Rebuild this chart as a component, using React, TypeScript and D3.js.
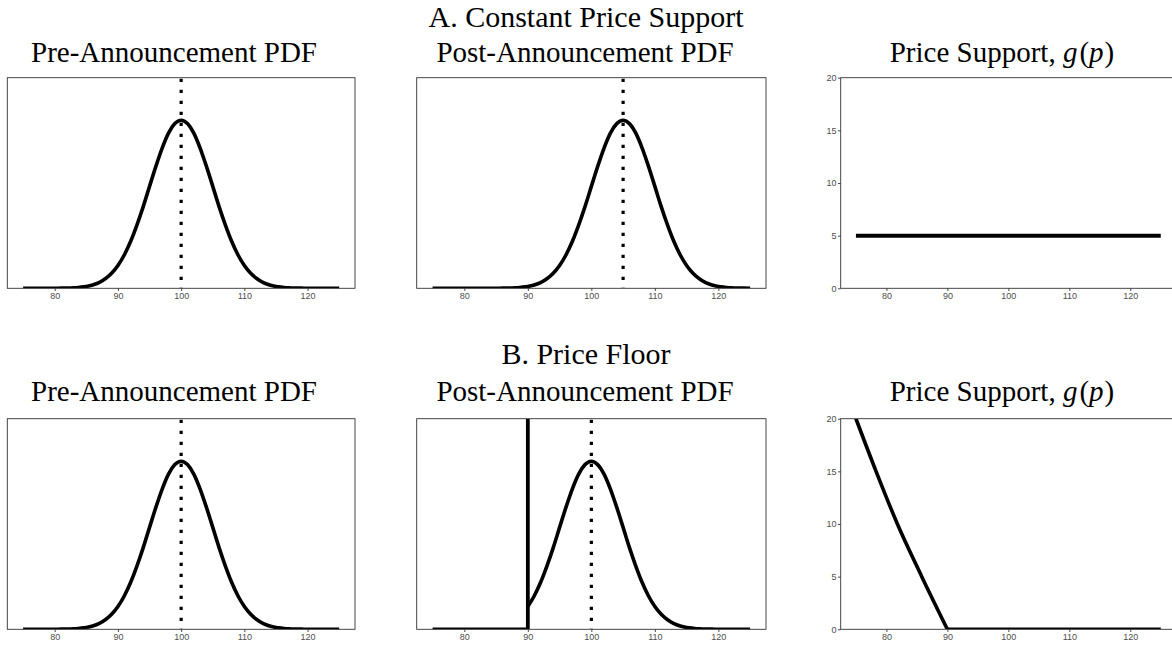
import { useEffect, useRef } from 'react'
import * as d3 from 'd3'

// Prices sampled along the x axis
const PRICES = [
  75, 76, 77, 78, 79, 80, 81, 82, 83, 84, 85, 86, 87, 88, 89, 90, 91, 92, 93, 94, 95, 96, 97, 98, 99,
  100, 101, 102, 103, 104, 105, 106, 107, 108, 109, 110, 111, 112, 113, 114, 115, 116, 117, 118, 119,
  120, 121, 122, 123, 124, 125,
]

// Pre-announcement density (centred on 100)
const PRE_PDF = [
  0, 0, 0, 0, 0, 0, 0.0001, 0.0001, 0.0002, 0.0005, 0.0009, 0.0016, 0.0027, 0.0045, 0.0071, 0.0108,
  0.0158, 0.0222, 0.03, 0.0388, 0.0484, 0.0579, 0.0666, 0.0737, 0.0782, 0.0798, 0.0782, 0.0737, 0.0666,
  0.0579, 0.0484, 0.0388, 0.03, 0.0222, 0.0158, 0.0108, 0.0071, 0.0045, 0.0027, 0.0016, 0.0009, 0.0005,
  0.0002, 0.0001, 0.0001, 0, 0, 0, 0, 0, 0,
]

// Post-announcement density, constant support (shifted to 105)
const POST_A_PDF = [
  0, 0, 0, 0, 0, 0, 0, 0, 0, 0, 0, 0.0001, 0.0001, 0.0002, 0.0005, 0.0009, 0.0016, 0.0027, 0.0045,
  0.0071, 0.0108, 0.0158, 0.0222, 0.03, 0.0388, 0.0484, 0.0579, 0.0666, 0.0737, 0.0782, 0.0798, 0.0782,
  0.0737, 0.0666, 0.0579, 0.0484, 0.0388, 0.03, 0.0222, 0.0158, 0.0108, 0.0071, 0.0045, 0.0027, 0.0016,
  0.0009, 0.0005, 0.0002, 0.0001, 0.0001, 0,
]

// Post-announcement density, price floor (truncated at 90, mass point at the floor)
const POST_B_PDF = [
  0, 0, 0, 0, 0, 0, 0, 0, 0, 0, 0, 0, 0, 0, 0, 0.0108,
  0.0158, 0.0222, 0.03, 0.0388, 0.0484, 0.0579, 0.0666, 0.0737, 0.0782, 0.0798, 0.0782, 0.0737, 0.0666,
  0.0579, 0.0484, 0.0388, 0.03, 0.0222, 0.0158, 0.0108, 0.0071, 0.0045, 0.0027, 0.0016, 0.0009, 0.0005,
  0.0002, 0.0001, 0.0001, 0, 0, 0, 0, 0, 0,
]
const FLOOR_PRICE = 90
const FLOOR_SPIKE = 0.1

// Means (dotted lines)
const MEANS = [
  [100, 105],
  [100, 100],
]

// Price support g(p)
const SUPPORT_A_P = [75, 125]
const SUPPORT_A_G = [5, 5]
const SUPPORT_B_P = [75, 78.3, 81.8, 85.8, 90]
const SUPPORT_B_G = [20, 15, 10, 5, 0]
const SUPPORT_B_FLAT_P = [90, 125]
const SUPPORT_B_FLAT_G = [0, 0]

const X_TICKS = [80, 90, 100, 110, 120]
const Y_TICKS = [0, 5, 10, 15, 20]

const ROW_TITLES = ['A. Constant Price Support', 'B. Price Floor']
const COL_TITLES = ['Pre-Announcement PDF', 'Post-Announcement PDF']

// layout
const W = 1172
const H = 649
const COLS = [
  { x0: 7.3, x1: 355, tx: 174 },
  { x0: 416.7, x1: 766, tx: 585 },
  { x0: 840.7, x1: 1176, tx: 1002 },
]
const ROWS = [
  { y0: 77.7, y1: 288.3, title: 27, sub: 61.5 },
  { y0: 418.7, y1: 629.3, title: 364, sub: 401 },
]
const SERIF = '"Liberation Serif", "Times New Roman", serif'
const SANS = '"Liberation Sans", Arial, sans-serif'
const AXIS = '#333333'
const LABEL = '#4d4d4d'

export default function App() {
  const ref = useRef<SVGSVGElement>(null)

  useEffect(() => {
    if (!ref.current) return
    d3.select(ref.current).selectAll('*').remove()
    render(ref.current)
  }, [])

  return (
    <div style={{ position: 'absolute', left: 0, top: 0, background: '#fff' }}>
      <svg ref={ref} width={W} height={H} style={{ display: 'block' }} />
    </div>
  )
}

function render(el: SVGSVGElement) {
  const svg = d3.select(el).attr('viewBox', `0 0 ${W} ${H}`)
  svg.append('rect').attr('width', W).attr('height', H).attr('fill', '#fff')
  const defs = svg.append('defs')

  ROWS.forEach((row, r) => {
    // Row title
    svg.append('text')
      .attr('x', 586)
      .attr('y', row.title)
      .attr('text-anchor', 'middle')
      .attr('font-family', SERIF)
      .attr('font-size', 30)
      .attr('fill', '#000')
      .text(ROW_TITLES[r])

    COLS.forEach((col, c) => {
      const x = d3.scaleLinear().domain([72.5, 127.5]).range([col.x0, col.x1])
      const y = c < 2
        ? d3.scaleLinear().domain([0, 0.1]).range([row.y1, row.y0])
        : d3.scaleLinear().domain([0, 20]).range([row.y1, row.y0])

      // Panel title
      const t = svg.append('text')
        .attr('x', col.tx)
        .attr('y', row.sub)
        .attr('text-anchor', 'middle')
        .attr('font-family', SERIF)
        .attr('font-size', 29)
        .attr('fill', '#000')
      if (c < 2) {
        t.text(COL_TITLES[c])
      } else {
        t.append('tspan').text('Price Support, ')
        t.append('tspan').attr('font-style', 'italic').text('g')
        t.append('tspan').attr('dx', 2).text('(')
        t.append('tspan').attr('font-style', 'italic').text('p')
        t.append('tspan').attr('dx', 1).text(')')
      }

      const id = `clip-${r}-${c}`
      defs.append('clipPath').attr('id', id)
        .append('rect')
        .attr('x', col.x0)
        .attr('y', row.y0)
        .attr('width', col.x1 - col.x0)
        .attr('height', row.y1 - row.y0)

      const g = svg.append('g').attr('clip-path', `url(#${id})`)

      const pdfLine = d3.line<number>()
        .x((_, i) => x(PRICES[i]))
        .y((d) => y(d))
        .curve(d3.curveMonotoneX)

      const drawPath = (d: string | null, w = 3.6) =>
        g.append('path')
          .attr('d', d)
          .attr('fill', 'none')
          .attr('stroke', '#000')
          .attr('stroke-width', w)
          .attr('stroke-linejoin', 'round')

      if (c < 2) {
        // Mean marker
        const m = MEANS[r][c]
        g.append('line')
          .attr('x1', x(m))
          .attr('x2', x(m))
          .attr('y1', row.y0 + 1)
          .attr('y2', row.y1)
          .attr('stroke', '#000')
          .attr('stroke-width', 3.2)
          .attr('stroke-dasharray', '3.2,7.8')

        if (c === 0) {
          drawPath(pdfLine(PRE_PDF))
        } else if (r === 0) {
          drawPath(pdfLine(POST_A_PDF))
        } else {
          const iFloor = PRICES.indexOf(FLOOR_PRICE)
          const flat = d3.line<number>()
            .x((d) => x(d))
            .y(() => y(0))
          drawPath(flat(PRICES.slice(0, iFloor + 1)))
          g.append('line')
            .attr('x1', x(FLOOR_PRICE))
            .attr('x2', x(FLOOR_PRICE))
            .attr('y1', y(0))
            .attr('y2', y(FLOOR_SPIKE))
            .attr('stroke', '#000')
            .attr('stroke-width', 3.8)
          const tail = d3.line<number>()
            .x((_, i) => x(PRICES[iFloor + i]))
            .y((d) => y(d))
            .curve(d3.curveMonotoneX)
          drawPath(tail(POST_B_PDF.slice(iFloor)))
        }
      } else {
        const supLine = (ps: number[], gs: number[], curve = d3.curveLinear) =>
          d3.line<number>()
            .x((d) => x(d))
            .y((_, i) => y(gs[i]))
            .curve(curve)(ps)
        if (r === 0) {
          drawPath(supLine(SUPPORT_A_P, SUPPORT_A_G), 4)
        } else {
          drawPath(supLine(SUPPORT_B_P, SUPPORT_B_G, d3.curveMonotoneX), 3.6)
          drawPath(supLine(SUPPORT_B_FLAT_P, SUPPORT_B_FLAT_G), 3.6)
        }
      }

      // Panel border
      svg.append('rect')
        .attr('x', col.x0)
        .attr('y', row.y0)
        .attr('width', col.x1 - col.x0)
        .attr('height', row.y1 - row.y0)
        .attr('fill', 'none')
        .attr('stroke', AXIS)
        .attr('stroke-width', 0.9)

      // X axis
      svg.append('g')
        .attr('transform', `translate(0,${row.y1})`)
        .call(d3.axisBottom(x).tickValues(X_TICKS).tickSize(2.7).tickPadding(1.5))
        .call((sel) => sel.select('.domain').remove())
        .call((sel) => sel.selectAll('line').attr('stroke', AXIS).attr('stroke-width', 0.9))
        .call((sel) =>
          sel.selectAll('text')
            .attr('font-family', SANS)
            .attr('font-size', 9)
            .attr('fill', LABEL)
        )

      // Y axis on the support panels
      if (c === 2) {
        svg.append('g')
          .attr('transform', `translate(${col.x0},0)`)
          .call(d3.axisLeft(y).tickValues(Y_TICKS).tickSize(2.7).tickPadding(1.5))
          .call((sel) => sel.select('.domain').remove())
          .call((sel) => sel.selectAll('line').attr('stroke', AXIS).attr('stroke-width', 0.9))
          .call((sel) =>
            sel.selectAll('text')
              .attr('font-family', SANS)
              .attr('font-size', 9)
              .attr('fill', LABEL)
          )
      }
    })
  })
}
